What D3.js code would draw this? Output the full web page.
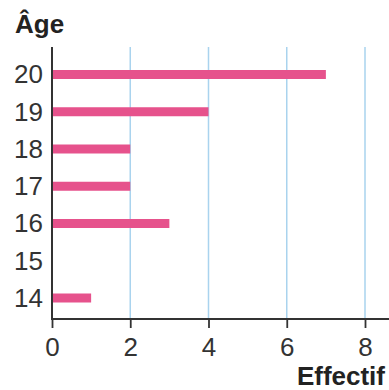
<!DOCTYPE html>
<html><head><meta charset="utf-8">
<script src="https://cdn.jsdelivr.net/npm/d3@7"></script>
<style>html,body{margin:0;padding:0;background:#fff;}svg{display:block;font-family:"Liberation Sans",Arial,Helvetica,sans-serif;}</style>
</head><body>
<script>
const ages = ["20","19","18","17","16","15","14"];
const effectifs = [7,4,2,2,3,0,1];
const xTicks = [0,2,4,6,8];
const yTitle = "Âge";
const xTitle = "Effectif";

const W = 389, H = 390;
const svg = d3.select("body").append("svg").attr("width", W).attr("height", H);
const x = d3.scaleLinear().domain([0,8]).range([52,365]);
const y = d3.scalePoint().domain(ages).range([74.5,298]);
const axisY = 319, topY = 47, barH = 9;

// grid
svg.append("g").selectAll("line").data(xTicks.filter(d=>d>0)).join("line")
  .attr("x1", d=>x(d)).attr("x2", d=>x(d)).attr("y1", topY).attr("y2", axisY)
  .attr("stroke", "#a9d3ee").attr("stroke-width", 1.5);

// bars
svg.append("g").selectAll("rect").data(ages.map((a,i)=>({a, v:effectifs[i]})).filter(d=>d.v>0)).join("rect")
  .attr("x", x(0)).attr("y", d=>y(d.a)-barH/2)
  .attr("width", d=>x(d.v)-x(0)).attr("height", barH)
  .attr("fill", "#e6528c");

// axes
const xAxis = d3.axisBottom(x).tickValues(xTicks).tickSize(9).tickPadding(10).tickFormat(d3.format("d"));
const gx = svg.append("g").attr("transform", `translate(0,${axisY})`).call(xAxis);
gx.select(".domain").remove();
gx.selectAll("line").attr("stroke","#333").attr("stroke-width",1.8);
gx.selectAll("text").attr("font-size",26).attr("fill","#333").attr("font-family","Liberation Sans, Arial, sans-serif");
svg.append("line").attr("x1", x(0)).attr("x2", W).attr("y1", axisY).attr("y2", axisY).attr("stroke","#333").attr("stroke-width",2);
svg.append("line").attr("x1", x(0)).attr("x2", x(0)).attr("y1", topY).attr("y2", axisY+1).attr("stroke","#333").attr("stroke-width",2);

const yAxis = d3.axisLeft(y).tickSize(0).tickPadding(9);
const gy = svg.append("g").attr("transform", `translate(${x(0)},0)`).call(yAxis);
gy.select(".domain").remove();
gy.selectAll("text").attr("font-size",26).attr("fill","#333").attr("font-family","Liberation Sans, Arial, sans-serif");

svg.append("text").attr("x", 15).attr("y", 33).text(yTitle)
  .attr("font-size",26).attr("font-weight","bold").attr("fill","#222");
svg.append("text").attr("x", 385).attr("y", 385).attr("text-anchor","end").text(xTitle)
  .attr("font-size",26).attr("font-weight","bold").attr("fill","#222");
</script>
</body></html>
